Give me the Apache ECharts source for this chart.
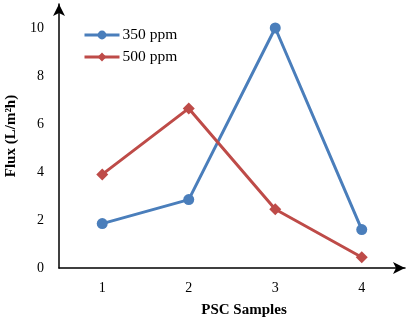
<!DOCTYPE html>
<html><head><meta charset="utf-8">
<script src="https://cdn.jsdelivr.net/npm/echarts@6/dist/echarts.min.js"></script>
<style>html,body{margin:0;padding:0;background:#fff}#c{width:413px;height:328px}</style>
</head><body><div id="c"></div>
<script>
const categories = ['1', '2', '3', '4'];
const series350 = [1.85, 2.85, 10.0, 1.6];
const series500 = [3.9, 6.65, 2.45, 0.45];
const seriesNames = ['350 ppm', '500 ppm'];
const yTicks = [0, 2, 4, 6, 8, 10];

const font = 'Liberation Serif';
const chart = echarts.init(document.getElementById('c'));
chart.setOption({
  animation: false,
  textStyle: { fontFamily: font },
  grid: { left: 59, right: 8, top: 4, bottom: 60, containLabel: false, outerBoundsMode: 'none' },
  legend: {
    left: 78, top: 22, orient: 'vertical', itemGap: 6,
    itemWidth: 35, itemHeight: 11,
    lineStyle: { width: 3 },
    textStyle: { fontFamily: font, fontSize: 15.5, color: '#000', padding: [0, 0, 0, -2] },
    data: seriesNames
  },
  xAxis: {
    type: 'category', data: categories, boundaryGap: true,
    name: 'PSC Samples', nameLocation: 'middle', nameGap: 35,
    nameTextStyle: { fontFamily: font, fontSize: 15, fontWeight: 'bold', color: '#000', padding: [0, 0, 0, 24] },
    axisLine: { lineStyle: { color: '#000', width: 1.5 }, symbol: ['none', 'arrow'], symbolSize: [9, 12] },
    axisTick: { show: false },
    axisLabel: { fontFamily: font, fontSize: 14, color: '#000', margin: 13 }
  },
  yAxis: {
    type: 'value', min: 0, max: 11, interval: 1,
    name: 'Flux (L/m²h)', nameLocation: 'middle', nameGap: 30, nameRotate: 90,
    nameTextStyle: { fontFamily: font, fontSize: 15, fontWeight: 'bold', color: '#000' },
    axisLine: { show: true, lineStyle: { color: '#000', width: 1.5 }, symbol: ['none', 'arrow'], symbolSize: [9, 12] },
    axisTick: { show: false },
    splitLine: { show: false },
    axisLabel: { fontFamily: font, fontSize: 14, color: '#000', margin: 15,
      formatter: v => yTicks.includes(v) ? String(v) : '' }
  },
  series: [
    { name: seriesNames[0], type: 'line', data: series350, symbol: 'circle', symbolSize: 11,
      lineStyle: { color: '#4A7EBB', width: 3 }, itemStyle: { color: '#4A7EBB' } },
    { name: seriesNames[1], type: 'line', data: series500, symbol: 'diamond', symbolSize: 12,
      lineStyle: { color: '#BE4B48', width: 3 }, itemStyle: { color: '#BE4B48' } }
  ]
});
</script></body></html>
